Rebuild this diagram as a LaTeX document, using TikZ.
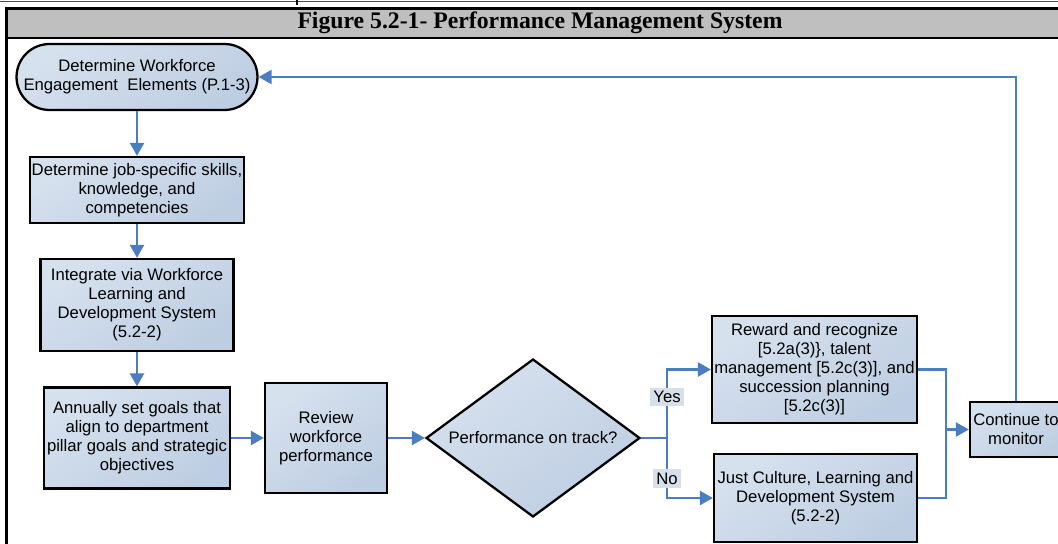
\documentclass[tikz,border=0pt]{standalone}
\usepackage{fontspec}
\setmainfont{Liberation Sans}
\newfontfamily\titlefont{Liberation Serif}
\usetikzlibrary{shapes.geometric,arrows.meta}
\definecolor{boxlight}{RGB}{214,225,238}
\definecolor{boxdark}{RGB}{190,206,226}
\definecolor{flowblue}{RGB}{74,126,193}
\definecolor{titlegray}{RGB}{191,191,191}
\definecolor{labelfill}{RGB}{214,223,234}
\begin{document}
\begin{tikzpicture}[x=.02cm,y=-.02cm,
  box/.style={draw,line width=1.3pt,top color=boxlight,bottom color=boxdark,shading angle=35,
    align=center,inner sep=1pt,font=\fontsize{9.5}{10.8}\selectfont},
  flowline/.style={flowblue,line width=1.4pt},
  flow/.style={flowline,-{Triangle[length=.26cm,width=.28cm]}},
  yesno/.style={fill=labelfill,inner sep=2pt,text=black,
    font=\fontsize{9.5}{10.8}\selectfont}]
\useasboundingbox (0,0) rectangle (1058,544);

\draw[line width=.8pt,black!70] (0,1.5) -- (1058,1.5);
\draw[line width=.8pt] (297,0) -- (297,5);
\draw[line width=1.2pt,fill=titlegray] (6.5,8.5) rectangle (1064,38);
\node[font=\titlefont\bfseries\fontsize{13.5}{14}\selectfont] (title) at (540,23)
  {Figure 5.2-1- Performance Management System};
\draw[line width=1.2pt] (6.5,38) -- (6.5,550);

\node[box,rounded corners=.66cm,minimum width=4.82cm,minimum height=1.32cm] (engage) at (137,77)
  {Determine Workforce\\Engagement\ \ Elements (P.1-3)};
\node[box,minimum width=4.27cm,minimum height=1.32cm] (skills) at (137,190)
  {Determine job-specific skills,\\knowledge, and\\competencies};
\node[box,minimum width=3.86cm,minimum height=1.84cm] (integrate) at (137,305)
  {Integrate via Workforce\\Learning and\\Development System\\(5.2-2)};
\node[box,minimum width=3.72cm,minimum height=2.02cm] (goals) at (137,438)
  {Annually set goals that\\align to department\\pillar goals and strategic\\objectives};
\node[box,minimum width=2.44cm,minimum height=2.2cm] (review) at (326,438)
  {Review\\workforce\\performance};
\node[box,shape=diamond,inner sep=0pt,aspect=1.35,minimum width=4.28cm,minimum height=3.16cm] (track) at (533,438)
  {Performance on track?};
\node[box,minimum width=4.1cm,minimum height=2.14cm] (reward) at (814.5,369.5)
  {Reward and recognize\\{[}5.2a(3)\}, talent\\management [5.2c(3)], and\\succession planning\\{[}5.2c(3)]};
\node[box,minimum width=4.06cm,minimum height=1.76cm] (culture) at (815.5,498)
  {Just Culture, Learning and\\Development System\\(5.2-2)};
\node[box,minimum width=1.84cm,minimum height=1.1cm] (monitor) at (1016,429.5)
  {Continue to\\monitor};

\coordinate (split) at (667,438);
\coordinate (merge) at (946,429.5);

\draw[flow] (engage) -- (skills);
\draw[flow] (skills) -- (integrate);
\draw[flow] (integrate) -- (goals);
\draw[flow] (goals) -- (review);
\draw[flow] (review) -- (track);
\draw[flowline] (track.east) -- (split);
\draw[flow] (split) |- node[yesno,pos=.3] {Yes} (reward.west);
\draw[flow] (split) |- node[yesno,pos=.34] {No} (culture.west);
\draw[flowline] (reward.east) -| (merge);
\draw[flowline] (culture.east) -| (merge);
\draw[flow] (merge) -- (monitor.west);
\draw[flow] (monitor.north) |- (engage.east);
\end{tikzpicture}
\end{document}
